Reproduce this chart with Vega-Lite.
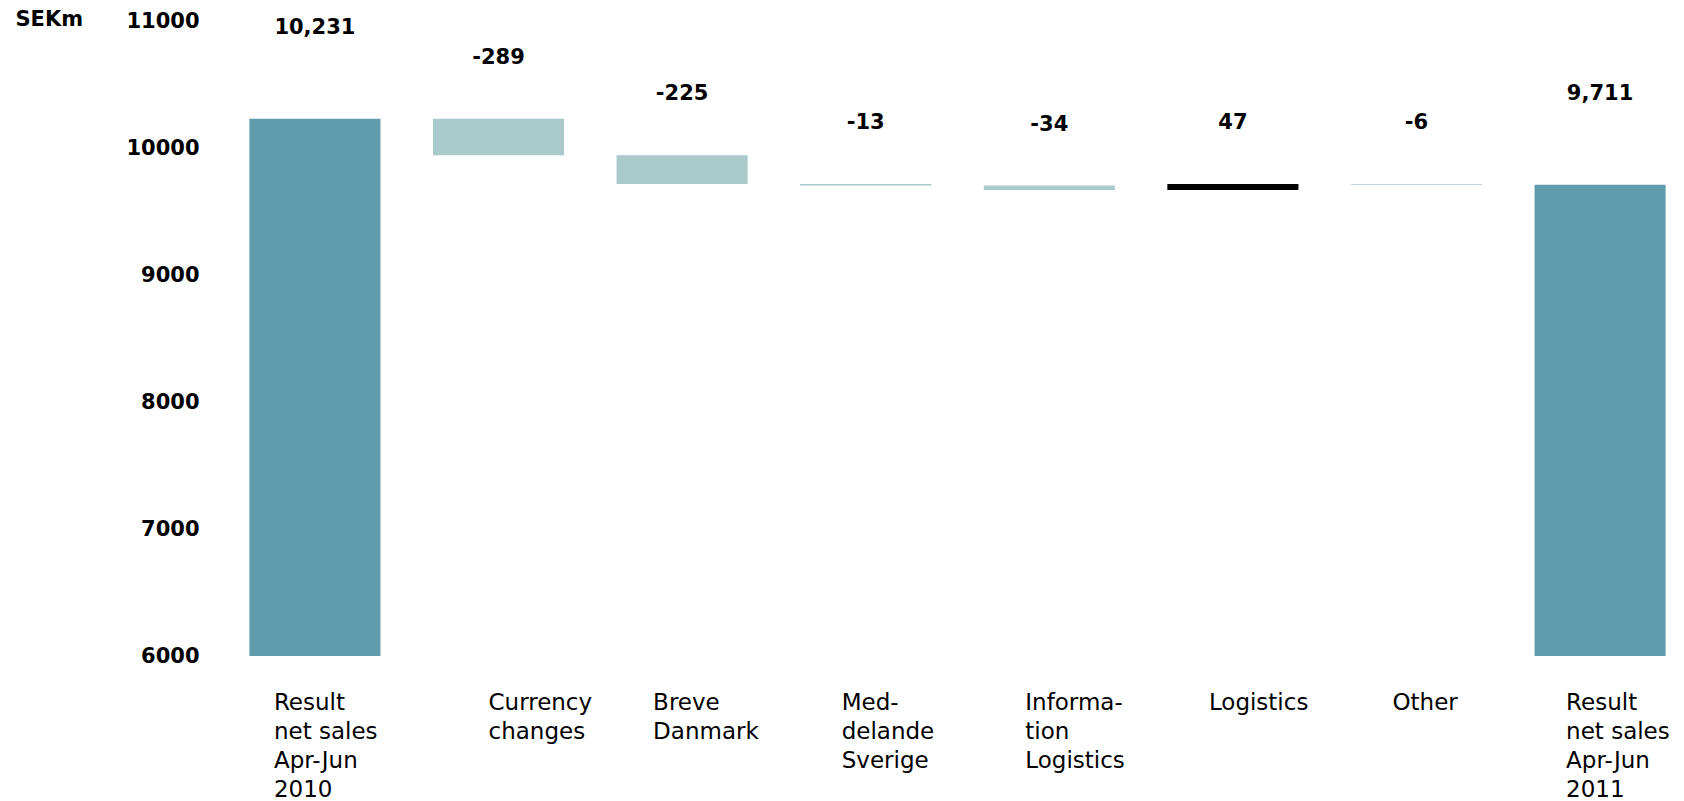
{
  "$schema": "https://vega.github.io/schema/vega-lite/v6.json",
  "autosize": {"type": "none"},
  "width": 1435,
  "height": 635,
  "padding": {"left": 240, "top": 21, "right": 9, "bottom": 145},
  "background": "white",
  "config": {"view": {"stroke": null}},
  "data": {
    "values": [
      {"cat": "Result|net sales|Apr-Jun|2010", "low": 0, "high": 10231, "label": "10,231", "kind": "total"},
      {"cat": "Currency|changes", "low": 9942, "high": 10231, "label": "-289", "kind": "decrease"},
      {"cat": "Breve|Danmark", "low": 9717, "high": 9942, "label": "-225", "kind": "decrease"},
      {"cat": "Med-|delande|Sverige", "low": 9704, "high": 9717, "label": "-13", "kind": "decrease"},
      {"cat": "Informa-|tion|Logistics", "low": 9670, "high": 9704, "label": "-34", "kind": "decrease"},
      {"cat": "Logistics", "low": 9670, "high": 9717, "label": "47", "kind": "increase"},
      {"cat": "Other", "low": 9711, "high": 9717, "label": "-6", "kind": "decrease"},
      {"cat": "Result|net sales|Apr-Jun|2011", "low": 0, "high": 9711, "label": "9,711", "kind": "total"}
    ]
  },
  "encoding": {
    "x": {
      "field": "cat",
      "type": "nominal",
      "sort": null,
      "scale": {"paddingInner": 0.286, "paddingOuter": 0.051},
      "axis": {
        "title": null,
        "domain": false,
        "ticks": false,
        "labelAngle": 0,
        "labelAlign": "left",
        "labelBaseline": "top",
        "labelOffset": {
          "condition": [
            {"test": "datum.value == 'Result|net sales|Apr-Jun|2010'", "value": -41},
            {"test": "datum.value == 'Currency|changes'", "value": -10},
            {"test": "datum.value == 'Breve|Danmark'", "value": -29},
            {"test": "datum.value == 'Result|net sales|Apr-Jun|2011'", "value": -34}
          ],
          "value": -24
        },
        "labelPadding": 35,
        "labelFont": "DejaVu Sans",
        "labelFontSize": 23,
        "labelLineHeight": 29,
        "labelColor": "#000000",
        "labelLimit": 0,
        "labelOverlap": false,
        "labelFlush": false,
        "labelExpr": "split(datum.label, '|')"
      }
    }
  },
  "layer": [
    {
      "mark": {"type": "bar", "clip": true},
      "encoding": {
        "y": {
          "field": "low",
          "type": "quantitative",
          "scale": {"domain": [6000, 11000], "nice": false, "zero": false},
          "axis": {
            "title": "SEKm",
            "titleAngle": 0,
            "titleX": -225,
            "titleY": -2,
            "titleAlign": "left",
            "titleBaseline": "middle",
            "titleFont": "DejaVu Sans",
            "titleFontSize": 21,
            "titleFontWeight": "bold",
            "titleColor": "#000000",
            "values": [6000, 7000, 8000, 9000, 10000, 11000],
            "format": "d",
            "grid": false,
            "domain": false,
            "ticks": false,
            "labelPadding": 41,
            "labelFont": "DejaVu Sans",
            "labelFontSize": 21,
            "labelFontWeight": "bold",
            "labelColor": "#000000",
            "labelFlush": false
          }
        },
        "y2": {"field": "high"},
        "color": {
          "field": "kind",
          "type": "nominal",
          "scale": {"domain": ["total", "decrease", "increase"], "range": ["#619CAD", "#A9C9CB", "#000000"]},
          "legend": null
        }
      }
    },
    {
      "transform": [{"filter": "datum.kind == 'total'"}],
      "mark": {"type": "text", "dy": -91, "font": "DejaVu Sans", "fontSize": 21, "fontWeight": "bold", "color": "#000000", "baseline": "middle"},
      "encoding": {
        "y": {"field": "high", "type": "quantitative"},
        "text": {"field": "label"}
      }
    },
    {
      "transform": [{"filter": "datum.kind != 'total'"}],
      "mark": {"type": "text", "dy": -61, "font": "DejaVu Sans", "fontSize": 21, "fontWeight": "bold", "color": "#000000", "baseline": "middle"},
      "encoding": {
        "y": {"field": "high", "type": "quantitative"},
        "text": {"field": "label"}
      }
    }
  ]
}
